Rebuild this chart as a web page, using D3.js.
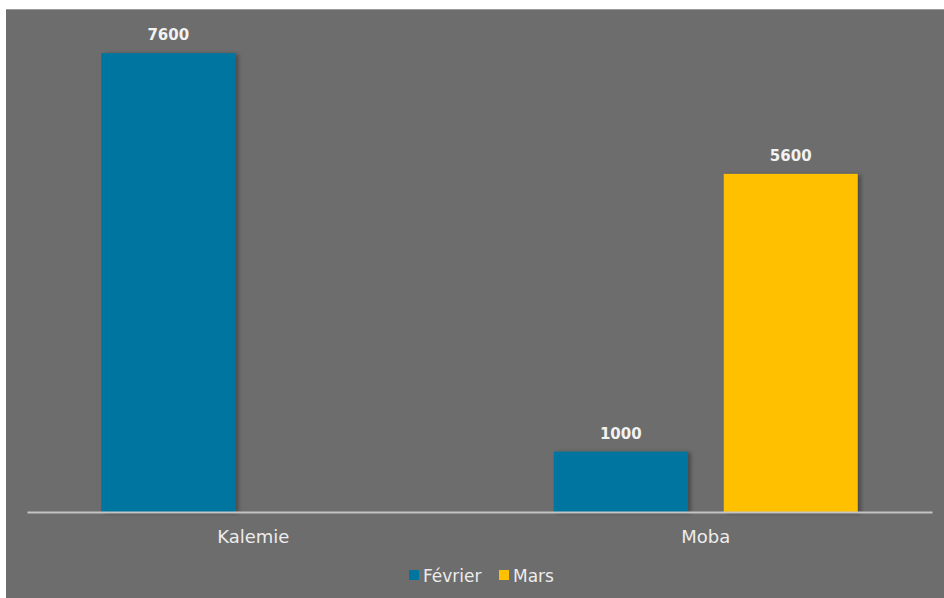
<!DOCTYPE html>
<html>
<head>
<meta charset="utf-8">
<script src="https://cdn.jsdelivr.net/npm/d3@7"></script>
<style>
  html, body { margin: 0; padding: 0; background: #ffffff; }
  svg { display: block; }
</style>
</head>
<body>
<svg id="chart" width="944" height="598"></svg>
<script>
// Data
const categories = ["Kalemie", "Moba"];
const seriesNames = ["Février", "Mars"];
const fevrier = [7600, 1000];
const mars = [null, 5600];
const seriesColors = ["#00759f", "#ffc000"];

const W = 944, H = 598;
const svg = d3.select("#chart");

// Panel background
svg.append("rect")
  .attr("x", 6).attr("y", 9)
  .attr("width", W - 6).attr("height", H - 9)
  .attr("fill", "#6d6d6d");
svg.append("line")
  .attr("x1", 6).attr("x2", W).attr("y1", 9.5).attr("y2", 9.5)
  .attr("stroke", "#9a9a9a").attr("stroke-width", 1);

// Drop shadow for bars
const defs = svg.append("defs");
const f = defs.append("filter").attr("id", "shadow")
  .attr("x", "-10%").attr("y", "-10%").attr("width", "130%").attr("height", "130%");
f.append("feDropShadow")
  .attr("dx", 3).attr("dy", 1).attr("stdDeviation", 2)
  .attr("flood-color", "#000").attr("flood-opacity", 0.35);

const plot = { left: 27, right: 932, top: 29, bottom: 512 };

const x0 = d3.scaleBand()
  .domain(categories)
  .range([plot.left, plot.right])
  .paddingInner(0).paddingOuter(0);

const x1 = d3.scaleBand()
  .domain(seriesNames)
  .range([0, x0.bandwidth()])
  .paddingInner(0.212)
  .paddingOuter(0.437);

const y = d3.scaleLinear()
  .domain([0, 8000])
  .range([plot.bottom, plot.top]);

const rows = [];
categories.forEach((c, i) => {
  [fevrier, mars].forEach((vals, s) => {
    if (vals[i] != null) rows.push({ cat: c, series: seriesNames[s], value: vals[i], color: seriesColors[s] });
  });
});

const g = svg.append("g");

g.selectAll("rect.bar")
  .data(rows)
  .join("rect")
  .attr("class", "bar")
  .attr("x", d => x0(d.cat) + x1(d.series))
  .attr("y", d => y(d.value))
  .attr("width", x1.bandwidth())
  .attr("height", d => y(0) - y(d.value))
  .attr("fill", d => d.color)
  .attr("filter", "url(#shadow)");

// Value labels
g.selectAll("text.val")
  .data(rows)
  .join("text")
  .attr("class", "val")
  .attr("x", d => x0(d.cat) + x1(d.series) + x1.bandwidth() / 2)
  .attr("y", d => y(d.value) - 13)
  .attr("text-anchor", "middle")
  .attr("font-family", "'DejaVu Sans', sans-serif")
  .attr("font-weight", "bold")
  .attr("font-size", 15)
  .attr("fill", "#f2f2f2")
  .text(d => d.value);

// Category axis
const xAxis = d3.axisBottom(x0).tickSize(0).tickPadding(18);
const ax = svg.append("g")
  .attr("transform", `translate(0,${plot.bottom})`)
  .call(xAxis);
ax.select(".domain").attr("stroke", "#c4c4c4").attr("stroke-width", 2);
ax.selectAll("text")
  .attr("font-family", "'DejaVu Sans', sans-serif")
  .attr("font-size", 18)
  .attr("fill", "#ececec");

// Legend
const legend = svg.append("g").attr("transform", "translate(0,576)");
const legendItems = [
  { name: seriesNames[0], color: seriesColors[0], x: 409 },
  { name: seriesNames[1], color: seriesColors[1], x: 499 }
];
legendItems.forEach(it => {
  legend.append("rect")
    .attr("x", it.x).attr("y", -6)
    .attr("width", 10).attr("height", 10)
    .attr("fill", it.color);
  legend.append("text")
    .attr("x", it.x + 14).attr("y", 0)
    .attr("dy", "0.35em")
    .attr("font-family", "'DejaVu Sans', sans-serif")
    .attr("font-size", 17)
    .attr("fill", "#ececec")
    .text(it.name);
});
</script>
</body>
</html>
